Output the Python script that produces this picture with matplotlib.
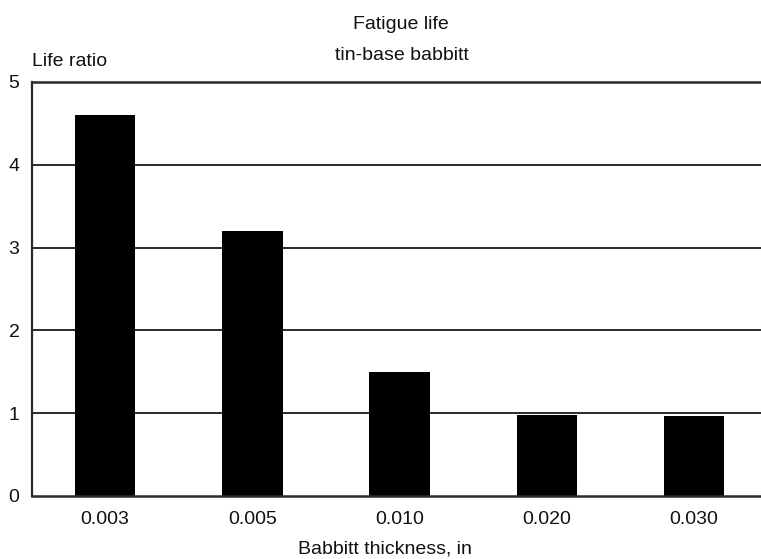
import matplotlib
matplotlib.use("Agg")
import matplotlib.pyplot as plt

# Fatigue life of tin-base babbitt versus babbitt layer thickness
thickness_labels = ["0.003", "0.005", "0.010", "0.020", "0.030"]
life_ratio = [4.6, 3.2, 1.5, 0.98, 0.97]
y_ticks = [0, 1, 2, 3, 4, 5]

plt.rcParams["font.family"] = ["Liberation Sans", "DejaVu Sans"]
W, H = 761, 559
fig = plt.figure(figsize=(W / 100, H / 100), dpi=100)
ax = fig.add_axes([32 / W, 1 - 496 / H, 1 - 32 / W, (496 - 82) / H])

x = list(range(len(thickness_labels)))
ax.bar(x, life_ratio, width=0.41, color="black", zorder=3)

ax.set_xlim(-0.497, 4.454)
ax.set_ylim(0, 5)
ax.set_yticks(y_ticks)
ax.set_xticks(x)
ax.set_xticklabels(thickness_labels)
ax.tick_params(axis="both", length=0, labelsize=14, colors="#111111")
ax.tick_params(axis="y", pad=9)
ax.tick_params(axis="x", pad=11)

# horizontal rules at each whole life ratio
for v in y_ticks:
    ax.axhline(v, color="#2a2a2a", lw=1.8 if v in (0, 5) else 1.4,
               zorder=4 if v == 0 else 1, clip_on=False)

for side in ("top", "right", "bottom"):
    ax.spines[side].set_visible(False)
ax.spines["left"].set_color("#2a2a2a")
ax.spines["left"].set_linewidth(1.6)

fig.text(401 / W, 1 - 29 / H, "Fatigue life", ha="center", va="baseline", fontsize=14, color="#111111")
fig.text(402 / W, 1 - 60 / H, "tin-base babbitt", ha="center", va="baseline", fontsize=14, color="#111111")
fig.text(32 / W, 1 - 66 / H, "Life ratio", ha="left", va="baseline", fontsize=14, color="#111111")
fig.text(385 / W, 1 - 553 / H, "Babbitt thickness, in", ha="center", va="baseline", fontsize=14, color="#111111")

fig.savefig("out.png", dpi=100)
